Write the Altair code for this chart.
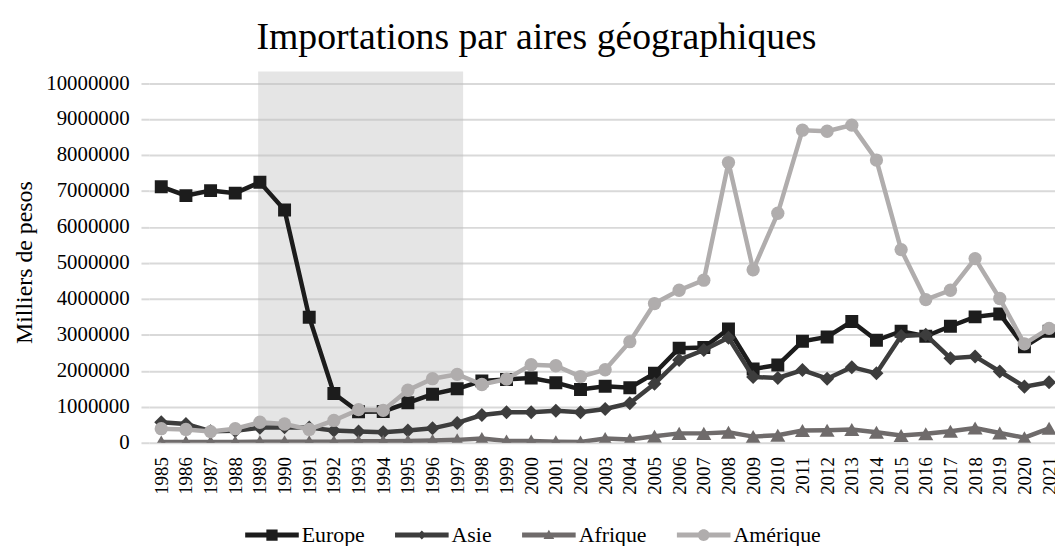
import altair as alt
import pandas as pd

years = list(range(1985, 2022))
# values in millions of pesos (thousands)
europe = [7.12, 6.87, 7.01, 6.94, 7.24, 6.47, 3.49, 1.37, 0.86, 0.87, 1.11, 1.35, 1.50,
          1.72, 1.76, 1.80, 1.67, 1.48, 1.57, 1.53, 1.93, 2.63, 2.65, 3.16, 2.05, 2.16,
          2.82, 2.94, 3.37, 2.85, 3.10, 2.96, 3.24, 3.50, 3.58, 2.67, 3.10]
asie = [0.57, 0.52, 0.32, 0.33, 0.42, 0.43, 0.42, 0.34, 0.31, 0.29, 0.34, 0.40, 0.55,
        0.77, 0.85, 0.85, 0.89, 0.85, 0.94, 1.10, 1.64, 2.30, 2.58, 2.92, 1.83, 1.80,
        2.02, 1.78, 2.10, 1.93, 2.97, 3.00, 2.35, 2.40, 1.98, 1.56, 1.68]
afrique = [0.02, 0.02, 0.02, 0.02, 0.03, 0.03, 0.03, 0.03, 0.04, 0.04, 0.05, 0.06, 0.08,
           0.12, 0.05, 0.05, 0.03, 0.02, 0.12, 0.09, 0.18, 0.26, 0.26, 0.29, 0.17, 0.21,
           0.34, 0.35, 0.37, 0.29, 0.20, 0.25, 0.32, 0.41, 0.27, 0.14, 0.40]
amerique = [0.39, 0.37, 0.31, 0.39, 0.57, 0.52, 0.37, 0.62, 0.92, 0.90, 1.46, 1.78, 1.90,
            1.62, 1.77, 2.17, 2.14, 1.84, 2.03, 2.81, 3.87, 4.24, 4.52, 7.79, 4.81, 6.38,
            8.69, 8.66, 8.83, 7.86, 5.37, 3.98, 4.24, 5.12, 4.01, 2.75, 3.18]

series_names = ["Europe", "Asie", "Afrique", "Amérique"]
series_values = [europe, asie, afrique, amerique]
series_colors = ["#1c1c1c", "#3d3d3d", "#6f6b6b", "#b0adad"]
series_shapes = ["square", "diamond", "triangle-up", "circle"]
marker_sizes = [170, 200, 230, 180]

_bar = "M-1,-0.09L1,-0.09L1,0.09L-1,0.09Z "
legend_paths = [
    _bar + "M-0.21,-0.21L0.21,-0.21L0.21,0.21L-0.21,0.21Z",
    _bar + "M0,-0.17L0.17,0L0,0.17L-0.17,0Z",
    _bar + "M0,-0.2L0.2,0.15L-0.2,0.15Z",
    _bar + "M0.22,0A0.22,0.22 0 1,1 -0.22,0A0.22,0.22 0 1,1 0.22,0Z",
]

shade_start = [1988.93]
shade_end = [1997.24]
shade_bottom = [0]
shade_top = [10320000]

y_ticks = list(range(0, 10000001, 1000000))

rows = []
for name, vals in zip(series_names, series_values):
    for yr, v in zip(years, vals):
        rows.append({"annee": yr, "valeur": v * 1e6, "serie": name})
df = pd.DataFrame(rows)
shade_df = pd.DataFrame({"debut": shade_start, "fin": shade_end,
                         "bas": shade_bottom, "haut": shade_top})

FONT = "Liberation Serif"
GRID = "#d9d9d9"
X_DOMAIN = [1984.5, 2021.24]
Y_DOMAIN = [0, 10320000]

x_scale = alt.Scale(domain=X_DOMAIN, nice=False, zero=False)
y_scale = alt.Scale(domain=Y_DOMAIN, nice=False, zero=True)

x_axis = alt.Axis(values=years, format="d", labelAngle=-90, title=None, grid=False,
                  domain=False, ticks=False, labelPadding=14, labelFont=FONT,
                  labelFontSize=19, labelColor="#000000", labelFlush=False,
                  labelOverlap=False)
y_axis = alt.Axis(values=y_ticks, format="d", title="Milliers de pesos", grid=True,
                  gridColor=GRID, gridWidth=2, domain=False, tickSize=8,
                  tickColor=GRID, tickWidth=2, labelPadding=12, labelFont=FONT,
                  labelFontSize=21, labelColor="#000000", titleFont=FONT,
                  titleFontSize=24, titleFontWeight="normal", titleColor="#000000",
                  titleX=-113, titleY=192, titleBaseline="bottom", titleAngle=270)

shade = alt.Chart(shade_df).mark_rect(color="#bdbdbd", opacity=0.4).encode(
    x=alt.X("debut:Q", scale=x_scale, axis=x_axis),
    x2="fin:Q",
    y=alt.Y("bas:Q", scale=y_scale, axis=y_axis),
    y2="haut:Q",
)

layers = [shade]
for name, color, shape, msize in zip(series_names, series_colors, series_shapes, marker_sizes):
    base = alt.Chart(df).transform_filter(alt.datum.serie == name).encode(
        x=alt.X("annee:Q", scale=x_scale, axis=x_axis),
        y=alt.Y("valeur:Q", scale=y_scale, axis=y_axis),
    )
    layers.append(base.mark_line(color=color, strokeWidth=4.5, clip=True))
    layers.append(base.mark_point(shape=shape, filled=True, size=msize, color=color,
                                  opacity=1, clip=True))

leg = alt.Legend(orient="none", legendX=97, legendY=440, direction="horizontal",
                 title=None, labelFont=FONT, labelFontSize=22, labelColor="#000000",
                 symbolSize=2916, symbolStrokeWidth=0, symbolOpacity=1,
                 columnPadding=30, labelOffset=3, padding=0)
legend_layer = alt.Chart(df).mark_point(filled=True, opacity=0, clip=True).encode(
    x=alt.X("annee:Q", scale=x_scale, axis=x_axis),
    y=alt.Y("valeur:Q", scale=y_scale, axis=y_axis),
    color=alt.Color("serie:N", scale=alt.Scale(domain=series_names, range=series_colors),
                    legend=leg),
    shape=alt.Shape("serie:N", scale=alt.Scale(domain=series_names, range=legend_paths),
                    legend=leg),
)
layers.append(legend_layer)

chart = alt.layer(*layers).properties(
    width=913,
    height=374,
    autosize=alt.AutoSizeParams(type="none"),
    padding={"left": 142, "top": 62, "right": 0, "bottom": 102},
    title=alt.TitleParams(text="Importations par aires géographiques", font=FONT,
                          fontSize=38, fontWeight="normal", color="#000000",
                          anchor="middle", frame="group", dx=-66, offset=15),
).configure_view(strokeWidth=0)

chart.save("out.html", embed_options={"renderer": "svg", "actions": False})
